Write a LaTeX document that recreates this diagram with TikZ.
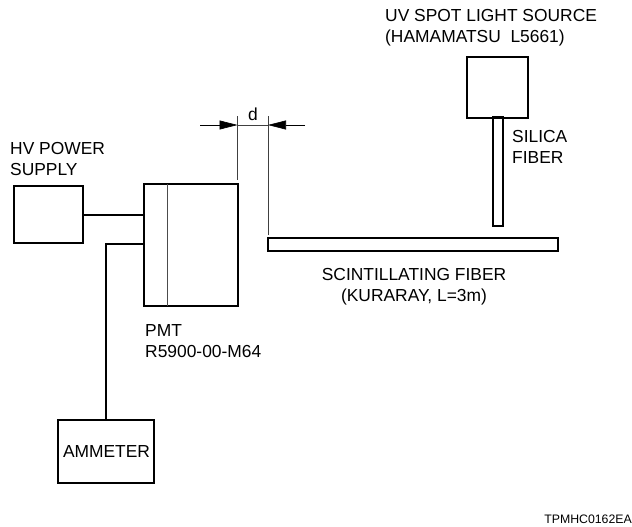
\documentclass[tikz,border=0pt]{standalone}
\usepackage{fontspec}
\setmainfont{Liberation Sans}
\usetikzlibrary{arrows.meta, positioning, calc}
\begin{document}
\begin{tikzpicture}[
    x=1pt, y=-1pt,
    box/.style={rectangle, draw=black, line width=2pt, inner sep=0pt, outer sep=0pt, anchor=north west},
    label/.style={font=\fontsize{17.4}{20.5}\selectfont, align=left, inner sep=0pt, anchor=north west},
    wire/.style={draw=black, line width=2pt},
    dimline/.style={draw=black!75, line width=0.6pt},
    dimarrow/.style={-{Triangle[length=18pt, width=9pt]}, draw=black, line width=0.6pt}
]
\useasboundingbox (0,0) rectangle (632,527);

% Boxes
\node[box, minimum width=69pt, minimum height=57pt] (hv) at (13.5,186) {};
\node[box, minimum width=94pt, minimum height=122pt] (pmt) at (143.5,184) {};
\node[box, minimum width=96pt, minimum height=63pt] (ammeter) at (57.5,419.5) {};
\node[box, minimum width=61pt, minimum height=60pt] (source) at (467,57.5) {};
\node[box, minimum width=290pt, minimum height=13pt] (scint) at (268,237.5) {};
\node[box, minimum width=10pt, minimum height=109pt] (silica) at (492.5,117) {};

% Labels
\node[label] (hvtext) at (10,142.5) {HV POWER\\SUPPLY};
\node[label] (srctext) at (385,9.5) {UV SPOT LIGHT SOURCE\\(HAMAMATSU\ \ L5661)};
\node[label] (silicatext) at (512,130.5) {SILICA\\FIBER};
\node[label, align=center, anchor=north] (scinttext) at (414,268.5) {SCINTILLATING FIBER\\(KURARAY, L=3m)};
\node[label] (pmttext) at (145,324.5) {PMT\\R5900-00-M64};
\node[label, anchor=base] (amtext) at (106.5,457) {AMMETER};
\node[font=\fontsize{12.3}{14}\selectfont, inner sep=0pt, anchor=base east] (tag) at (632,523) {TPMHC0162EA};
\node[label, anchor=base] (dtext) at (253,121) {d};

% PMT window
\draw[draw=black!70, line width=1.6pt] ($(pmt.north west)+(24,0)$) coordinate (wintop) -- (wintop |- pmt.south);

% Wires
\coordinate (hvin) at (pmt.west |- hv.east);
\coordinate (amin) at ($(pmt.north west)+(0,60)$);
\draw[wire] (hv.east) -- (hvin);
\draw[wire] (amin) -| (ammeter.north);

% Dimension d
\coordinate (dl) at (237.5,125);
\coordinate (dr) at (268,125);
\draw[dimline] (dl |- 0,116) coordinate (dltop) -- (dl |- 0,180) coordinate (dlbot);
\draw[dimline] (dr |- 0,116) coordinate (drtop) -- (dr |- 0,235) coordinate (drbot);
\draw[dimline] (dl) -- (dr);
\draw[dimarrow] (200,125) coordinate (dlfree) -- (dl);
\draw[dimarrow] (305,125) coordinate (drfree) -- (dr);

\end{tikzpicture}
\end{document}
